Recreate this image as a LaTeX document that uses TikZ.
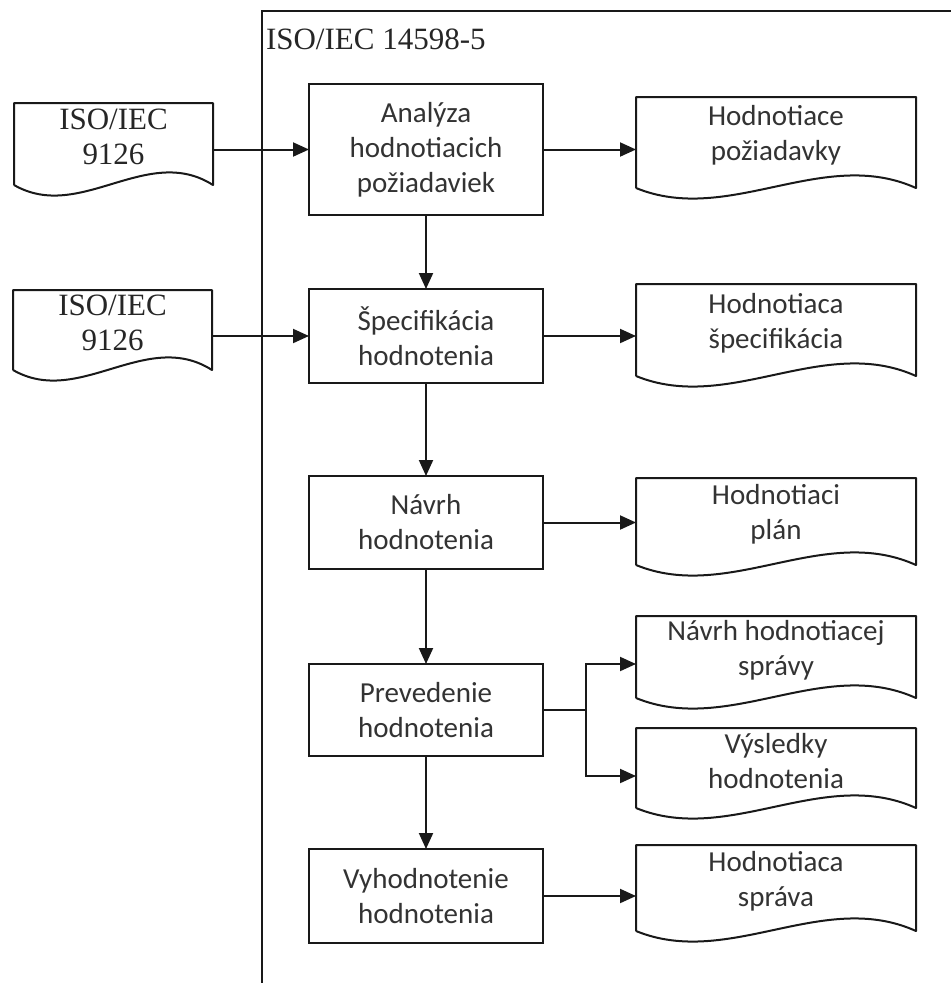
\documentclass[tikz,border=0pt]{standalone}
\usepackage{fontspec}
\setmainfont{Liberation Serif}
\newfontfamily\boxfont{Carlito}
\usetikzlibrary{arrows.meta}

\begin{document}
\begin{tikzpicture}[x=1pt,y=-1pt,
  every node/.style={inner sep=0pt, outer sep=0pt},
  line/.style={line width=2pt, draw=black!90},
  arr/.style={line, -{Triangle[length=16pt,width=14pt]}},
  proc/.style={draw=black!90, line width=2pt, minimum width=234pt, anchor=north west,
    align=center, text=black!80, font=\boxfont\fontsize{29}{35}\selectfont},
  docbox/.style={anchor=north west, align=center, text=black!80,
    font=\boxfont\fontsize{29}{35}\selectfont},
  srcbox/.style={anchor=north west, align=center, text=black!85, minimum width=199pt,
    font=\fontsize{31}{35}\selectfont}
]
\useasboundingbox (0,0) rectangle (951,983);
\fill[white] (0,0) rectangle (951,983);

% enclosing frame of the standard (open to the right and bottom)
\draw[line] (262,983) -- (262,11) -- (951,11);
\node[anchor=west, text=black!85, font=\fontsize{31}{35}\selectfont] (title) at (266,39) {ISO/IEC 14598-5};

% process steps
\node[proc, minimum height=131pt] (A) at (309,84)  {Analýza\\hodnotiacich\\požiadaviek};
\node[proc, minimum height=94pt]  (B) at (309,289) {Špecifikácia\\hodnotenia};
\node[proc, minimum height=93pt]  (C) at (309,476) {Návrh\\hodnotenia};
\node[proc, minimum height=92pt]  (D) at (309,664) {Prevedenie\\hodnotenia};
\node[proc, minimum height=94pt]  (E) at (309,849) {Vyhodnotenie\\hodnotenia};

% input documents
\node[srcbox, minimum height=68pt] (I1) at (14,103) {ISO/IEC\\9126};
\node[srcbox, minimum height=66pt] (I2) at (13,290) {ISO/IEC\\9126};

% output documents
\node[docbox, minimum width=280pt, minimum height=77pt] (O1) at (636,97)  {Hodnotiace\\požiadavky};
\node[docbox, minimum width=280pt, minimum height=78pt] (O2) at (636,284) {Hodnotiaca\\špecifikácia};
\node[docbox, minimum width=280pt, minimum height=73pt] (O3) at (636,478) {Hodnotiaci\\plán};
\node[docbox, minimum width=280pt, minimum height=68pt] (O4) at (636,616) {Návrh hodnotiacej\\správy};
\node[docbox, minimum width=280pt, minimum height=66pt] (O5) at (636,728) {Výsledky\\hodnotenia};
\node[docbox, minimum width=280pt, minimum height=72pt] (O6) at (636,845) {Hodnotiaca\\správa};

% document outlines with a wavy lower edge
\foreach \n/\t in {I1/66, I2/66, O1/93, O2/93, O3/93, O4/93, O5/93, O6/93}{
  \draw[line, line join=round]
    ([yshift=-14pt]\n.south west) -- (\n.north west) -- (\n.north east)
    -- ([yshift=-14pt]\n.south east)
    .. controls +(-\t,-42) and +(\t,38) .. ([yshift=-14pt]\n.south west);
}

% main flow
\draw[arr] (A.south) -- (B.north);
\draw[arr] (B.south) -- (C.north);
\draw[arr] (C.south) -- (D.north);
\draw[arr] (D.south) -- (E.north);

% inputs
\draw[arr] (A.west -| I1.east) -- (A.west);
\draw[arr] (B.west -| I2.east) -- (B.west);

% outputs
\draw[arr] (A.east) -- (A.east -| O1.west);
\draw[arr] (B.east) -- (B.east -| O2.west);
\draw[arr] (C.east) -- (C.east -| O3.west);
\draw[line] (D.east) -- ++(43,0) coordinate (split);
\draw[arr] (split) |- ([yshift=-14pt]O4.west);
\draw[arr] (split) |- ([yshift=-15pt]O5.west);
\draw[arr] (E.east) -- (E.east -| O6.west);
\end{tikzpicture}
\end{document}
